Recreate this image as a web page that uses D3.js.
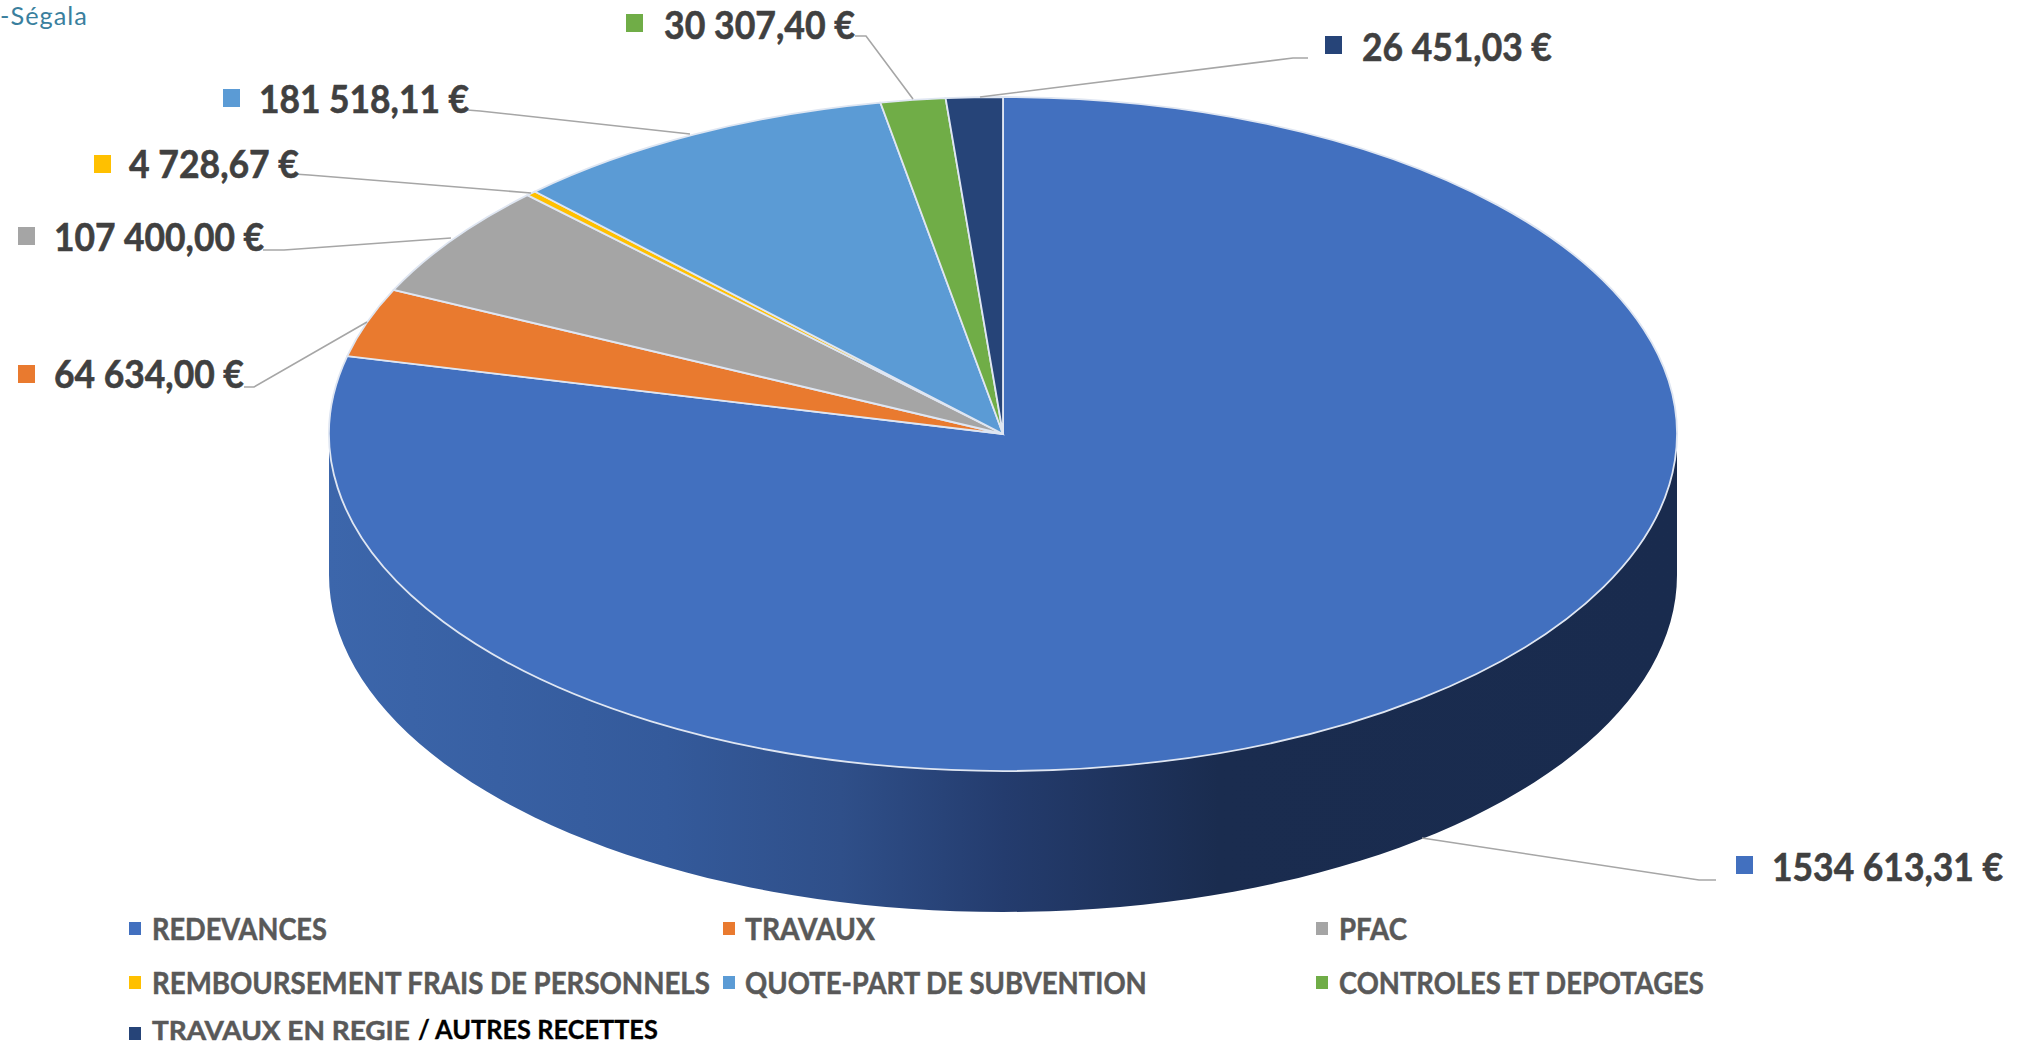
<!DOCTYPE html>
<html>
<head>
<meta charset="utf-8">
<script src="https://cdn.jsdelivr.net/npm/d3@7"></script>
<style>
  html, body { margin: 0; padding: 0; background: #fff; overflow: hidden; }
  svg { display: block; }
  text { font-family: Lato, "Noto Sans", sans-serif; font-weight: 700; }
</style>
</head>
<body>
<script>
// values
const categories = ["REDEVANCES", "TRAVAUX", "PFAC", "REMBOURSEMENT FRAIS DE PERSONNELS", "QUOTE-PART DE SUBVENTION", "CONTROLES ET DEPOTAGES", "TRAVAUX EN REGIE"];
const amounts = [1534613.31, 64634.00, 107400.00, 4728.67, 181518.11, 30307.40, 26451.03];
const amountLabels = ["1534 613,31 €", "64 634,00 €", "107 400,00 €", "4 728,67 €", "181 518,11 €", "30 307,40 €", "26 451,03 €"];
const colors = ["#4270bf", "#e97a2f", "#a5a5a5", "#ffc000", "#5b9bd5", "#70ad47", "#264478"];

// layout, in page pixels
const width = 2021, height = 1046;
const cx = 1003, cy = 434, rx = 674, ry = 337, depth = 141;

// label box: text left, text right, baseline, then the elbow and the leader end
const labelPos = [
  { x: 1772, x2: 2003, y: 881, elbowA: [1716, 880], elbowB: [1699, 880], end: [1422, 838] },
  { x: 54, x2: 244, y: 388, elbowA: [244, 387], elbowB: [254, 387], end: [367, 322] },
  { x: 54, x2: 264, y: 251, elbowA: [263, 250], elbowB: [284, 250], end: [451, 238] },
  { x: 129, x2: 299, y: 178, elbowA: [294, 174], elbowB: [309, 175], end: [531, 193] },
  { x: 259, x2: 469, y: 113, elbowA: [467, 110], elbowB: [480, 111], end: [690, 134] },
  { x: 664, x2: 855, y: 39, elbowA: [855, 36], elbowB: [866, 36], end: [913, 99] },
  { x: 1362, x2: 1552, y: 61, elbowA: [1308, 58], elbowB: [1293, 58], end: [980, 97] }
];
const swatchX = [1736, 18, 18, 94, 223, 626, 1325];
const swatchY = [856, 365, 227, 155, 89, 14, 36];
const swatchW = 17, swatchH = 18;

const legendCols = [129, 723, 1316];
const legendRows = [940, 994, 1040];
const legendSwatchY = [922, 976, 1027];
const legendTextX = [152, 745, 1339];
const legendWidths = [175, 130, 68, 558, 402, 365, 258];

const svg = d3.select("body").append("svg")
  .attr("width", width)
  .attr("height", height);

// squeeze a text to the width it has in the picture
function fitText(sel, x, y, w) {
  const len = sel.node().getComputedTextLength();
  sel.attr("transform", `translate(${x},${y}) scale(${w / len},1)`);
}

const defs = svg.append("defs");
const sideGrad = defs.append("linearGradient")
  .attr("id", "side")
  .attr("gradientUnits", "userSpaceOnUse")
  .attr("x1", cx - rx).attr("x2", cx + rx)
  .attr("y1", 0).attr("y2", 0);
sideGrad.append("stop").attr("offset", "0").attr("stop-color", "#3c66ab");
sideGrad.append("stop").attr("offset", "0.25").attr("stop-color", "#345a9b");
sideGrad.append("stop").attr("offset", "0.38").attr("stop-color", "#2f4f89");
sideGrad.append("stop").attr("offset", "0.5").attr("stop-color", "#243c6e");
sideGrad.append("stop").attr("offset", "0.66").attr("stop-color", "#1a2c4f");
sideGrad.append("stop").attr("offset", "1").attr("stop-color", "#192b4e");

// logo scrap in the top left corner of the slide
const logo = svg.append("text")
  .attr("fill", "#3a7f9e")
  .attr("letter-spacing", 1)
  .style("font-weight", 400)
  .style("font-size", "25px")
  .text("-Ségala");
fitText(logo, 0, 25, 88);

const yScale = ry / rx;
const pie = d3.pie().sort(null).startAngle(0).endAngle(2 * Math.PI);
const arcs = pie(amounts);
const arc = d3.arc().innerRadius(0).outerRadius(rx);

// side wall of the disc, the first slice is the only one that shows there
const ellipse = d3.range(0, 181, 2).map(a => {
  const t = a * Math.PI / 180;
  return [cx + rx * Math.cos(t), cy + ry * Math.sin(t)];
});
const wall = ellipse.map(p => [p[0], p[1] + depth]).concat(ellipse.slice().reverse());
svg.append("path")
  .attr("d", d3.line()(wall) + "Z")
  .attr("fill", "url(#side)");

// top of the disc
svg.append("g")
  .attr("transform", `translate(${cx},${cy}) scale(1,${yScale})`)
  .selectAll("path")
  .data(arcs)
  .join("path")
  .attr("d", arc)
  .attr("fill", (d, i) => colors[i])
  .attr("stroke", "#dfe6f2")
  .attr("stroke-width", 1.8)
  .attr("vector-effect", "non-scaling-stroke");

// leaders
const leader = d3.line();
svg.append("g")
  .selectAll("path")
  .data(labelPos)
  .join("path")
  .attr("d", d => leader([d.elbowA, d.elbowB, d.end]))
  .attr("fill", "none")
  .attr("stroke", "#a6a6a6")
  .attr("stroke-width", 1.6);

// data labels
svg.append("g")
  .selectAll("text")
  .data(amountLabels)
  .join("text")
  .attr("fill", "#404040")
  .attr("stroke", "#404040")
  .attr("stroke-width", 0.6)
  .style("font-size", "39px")
  .text(d => d)
  .each(function (d, i) {
    fitText(d3.select(this), labelPos[i].x, labelPos[i].y, labelPos[i].x2 - labelPos[i].x);
  });

svg.append("g")
  .selectAll("rect")
  .data(colors)
  .join("rect")
  .attr("x", (d, i) => swatchX[i])
  .attr("y", (d, i) => swatchY[i])
  .attr("width", swatchW)
  .attr("height", swatchH)
  .attr("fill", d => d);

// legend, three columns
const legend = svg.append("g");
categories.forEach((c, i) => {
  const col = i % 3, row = Math.floor(i / 3);
  legend.append("rect")
    .attr("x", legendCols[col]).attr("y", legendSwatchY[row])
    .attr("width", 12).attr("height", 13)
    .attr("fill", colors[i]);
  const t = legend.append("text")
    .attr("fill", "#595959")
    .attr("stroke", "#595959")
    .attr("stroke-width", 0.5)
    .style("font-size", row == 2 ? "27px" : "31px")
    .text(c);
  fitText(t, legendTextX[col], legendRows[row], legendWidths[i]);
});
const autres = legend.append("text")
  .attr("fill", "#000")
  .attr("stroke", "#000")
  .attr("stroke-width", 0.3)
  .style("font-size", "27px")
  .text("/ AUTRES RECETTES");
fitText(autres, 418, 1039, 240);
</script>
</body>
</html>
